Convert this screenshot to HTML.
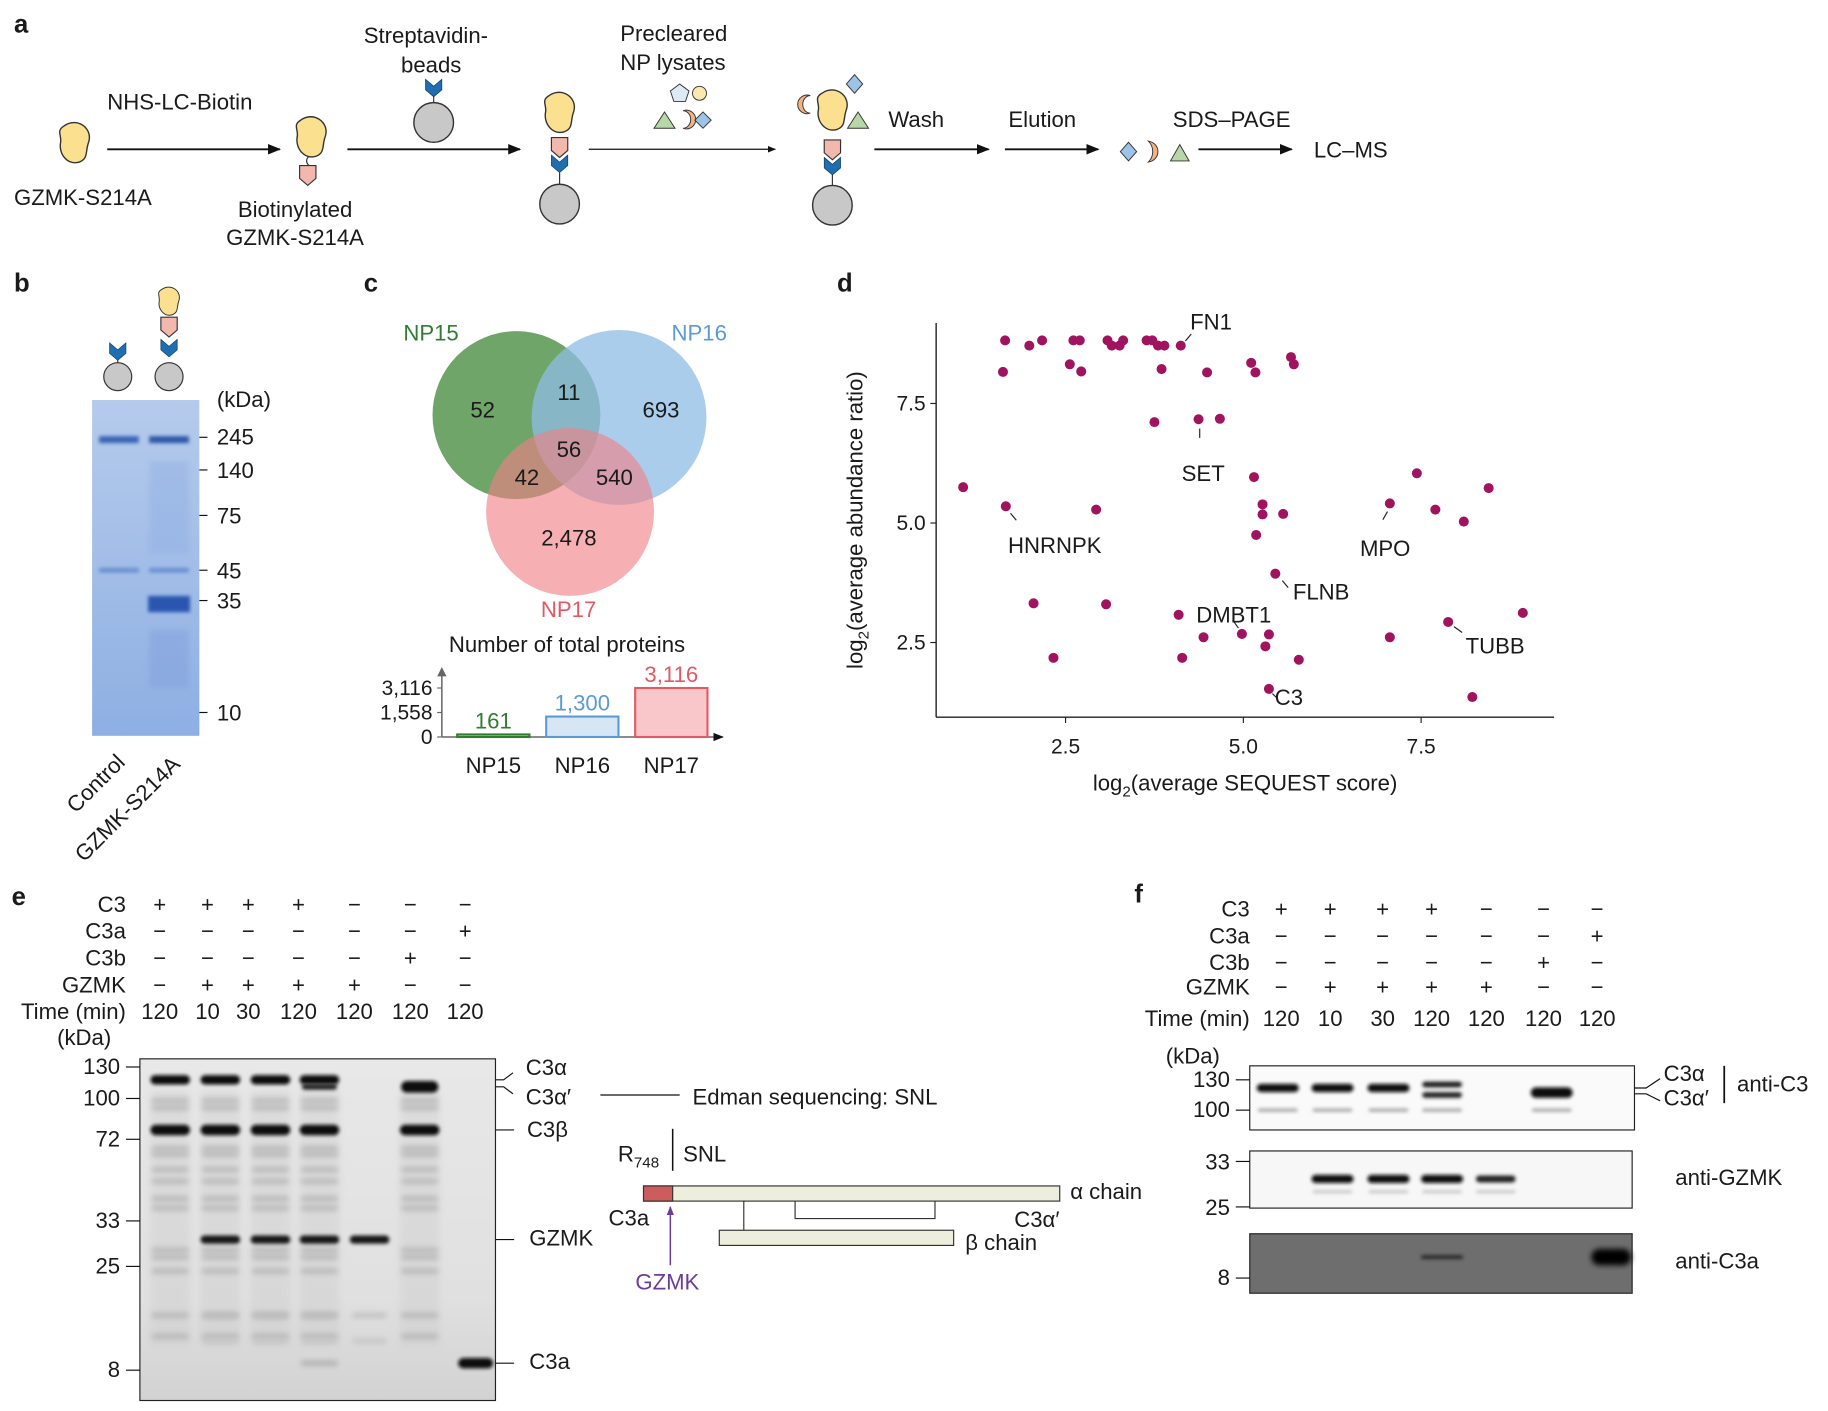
<!DOCTYPE html>
<html><head><meta charset="utf-8"><style>
html,body{margin:0;padding:0;background:#fff}
svg{display:block}
text{font-family:"Liberation Sans",Arial,sans-serif;fill:#1a1a1a}
</style></head><body>
<svg id="fig" width="1828" height="1411" viewBox="0 0 1568 1210" preserveAspectRatio="none" xmlns="http://www.w3.org/2000/svg">
<defs>
<filter id="bl" x="-20%" y="-200%" width="140%" height="500%"><feGaussianBlur stdDeviation="1.6"/></filter>
<filter id="bl2" x="-20%" y="-200%" width="140%" height="500%"><feGaussianBlur stdDeviation="2.5"/></filter>
<filter id="bl3" x="-20%" y="-300%" width="140%" height="700%"><feGaussianBlur stdDeviation="3"/></filter>
<marker id="ar" viewBox="0 0 10 10" refX="9" refY="5" markerWidth="7" markerHeight="7" orient="auto"><path d="M0,1 L10,5 L0,9 z" fill="#111"/></marker>
<marker id="arp" viewBox="0 0 10 10" refX="9" refY="5" markerWidth="6" markerHeight="6" orient="auto"><path d="M0,1 L10,5 L0,9 z" fill="#6a3d9a"/></marker>
<linearGradient id="gelb" x1="0" y1="0" x2="0" y2="1"><stop offset="0" stop-color="#b5cbec"/><stop offset="1" stop-color="#8eafe3"/></linearGradient>
<linearGradient id="gele" x1="0" y1="0" x2="0" y2="1"><stop offset="0" stop-color="#e8e8e8"/><stop offset="0.7" stop-color="#e0e0e0"/><stop offset="1" stop-color="#d2d2d2"/></linearGradient>
<g id="blob"><path d="M-9,-14 C2,-22 16,-12 12,0 C9,8 12,14 4,17 C-6,20 -14,10 -12,0 C-11,-6 -16,-10 -9,-14 z" fill="#fbe08f" stroke="#333" stroke-width="1.2"/></g>
<g id="tag"><path d="M-7,0 L7,0 L7,11 L0,17 L-7,11 z" fill="#f2b8ad" stroke="#333" stroke-width="1"/></g>
<g id="chev"><path d="M-7,0 L0,6 L7,0 L7,9 L0,15 L-7,9 z" fill="#1f6fb0" stroke="#0d3e66" stroke-width="0.6"/></g>
<g id="bead"><circle r="17" fill="#c8c8c8" stroke="#333" stroke-width="1.2"/></g>
</defs>

<g>
<text x="12" y="28" font-size="22" font-weight="bold">a</text>
<use href="#blob" x="64" y="122"/>
<text x="12" y="176" font-size="19">GZMK-S214A</text>
<line x1="92" y1="128" x2="240" y2="128" stroke="#111" stroke-width="1.6" marker-end="url(#ar)"/>
<text x="92" y="94" font-size="19">NHS-LC-Biotin</text>
<use href="#blob" x="267" y="117"/>
<path d="M265,134 q-4,4 0,8" fill="none" stroke="#333"/>
<use href="#tag" x="264" y="142"/>
<text x="204" y="186" font-size="19">Biotinylated</text>
<text x="194" y="210" font-size="19">GZMK-S214A</text>
<line x1="298" y1="128" x2="446" y2="128" stroke="#111" stroke-width="1.6" marker-end="url(#ar)"/>
<text x="312" y="37" font-size="19">Streptavidin-</text>
<text x="344" y="62" font-size="19">beads</text>
<use href="#chev" x="372" y="68"/>
<line x1="372" y1="82" x2="372" y2="88" stroke="#333"/>
<use href="#bead" x="372" y="105"/>
<use href="#blob" x="480" y="96"/>
<use href="#tag" x="480" y="118"/>
<use href="#chev" x="480" y="133"/>
<line x1="480" y1="148" x2="480" y2="158" stroke="#333"/>
<use href="#bead" x="480" y="175"/>
<line x1="505" y1="128" x2="665" y2="128" stroke="#111" stroke-width="1" marker-end="url(#ar)"/>
<text x="532" y="35" font-size="19">Precleared</text>
<text x="532" y="60" font-size="19">NP lysates</text>
<path d="M575,78 l8,-6 l8,6 l-3,9 l-10,0 z" fill="#dde9f5" stroke="#333" stroke-width="0.8"/>
<circle cx="600" cy="80" r="6" fill="#fbe8b0" stroke="#333" stroke-width="0.8"/>
<path d="M561,110 l9,-14 l9,14 z" fill="#b6d7a8" stroke="#333" stroke-width="0.8"/>
<path d="M586,95 a8,8 0 1 1 0,15 a6,7 0 1 0 0,-15 z" fill="#f4b183" stroke="#333" stroke-width="0.8"/>
<path d="M603,96 l7,7 l-7,7 l-7,-7 z" fill="#9dc3e6" stroke="#333" stroke-width="0.8"/>
<use href="#blob" x="714" y="94"/>
<path d="M695,82 a8,8 0 1 0 0,15 a6,7 0 1 1 0,-15 z" fill="#f4b183" stroke="#333" stroke-width="0.8"/>
<path d="M733,64 l7,8 l-7,8 l-7,-8 z" fill="#9dc3e6" stroke="#333" stroke-width="0.8"/>
<path d="M727,110 l9,-14 l9,14 z" fill="#b6d7a8" stroke="#333" stroke-width="0.8"/>
<use href="#tag" x="714" y="120"/>
<use href="#chev" x="714" y="135"/>
<line x1="714" y1="150" x2="714" y2="160" stroke="#333"/>
<use href="#bead" x="714" y="176"/>
<line x1="750" y1="128" x2="848" y2="128" stroke="#111" stroke-width="1.6" marker-end="url(#ar)"/>
<text x="762" y="109" font-size="19">Wash</text>
<line x1="862" y1="128" x2="942" y2="128" stroke="#111" stroke-width="1.6" marker-end="url(#ar)"/>
<text x="865" y="109" font-size="19">Elution</text>
<path d="M968,122 l7,8 l-7,8 l-7,-8 z" fill="#9dc3e6" stroke="#333" stroke-width="0.8"/>
<path d="M985,121 C996,123 996,137 985,139 C990,134 990,126 985,121 z" fill="#f4b183" stroke="#333" stroke-width="0.8"/>
<path d="M1004,138 l8,-14 l8,14 z" fill="#b6d7a8" stroke="#333" stroke-width="0.8"/>
<line x1="1028" y1="128" x2="1108" y2="128" stroke="#111" stroke-width="1.6" marker-end="url(#ar)"/>
<text x="1006" y="109" font-size="19">SDS–PAGE</text>
<text x="1127" y="135" font-size="19">LC–MS</text>
</g>

<g>
<text x="12" y="250" font-size="22" font-weight="bold">b</text>
<use href="#chev" x="101" y="294"/>
<line x1="101" y1="309" x2="101" y2="312" stroke="#333"/>
<circle cx="101" cy="323" r="12" fill="#c8c8c8" stroke="#333"/>
<g transform="translate(145,258) scale(0.7)"><use href="#blob"/></g>
<use href="#tag" x="145" y="272"/>
<use href="#chev" x="145" y="291"/>
<circle cx="145" cy="323" r="12" fill="#c8c8c8" stroke="#333"/>
<rect x="79" y="343" width="92" height="288" fill="url(#gelb)"/>
<g filter="url(#bl2)">
<rect x="128" y="395" width="34" height="80" fill="#8aa8e0" opacity="0.35"/>
<rect x="128" y="540" width="34" height="50" fill="#7b9cda" opacity="0.4"/>
</g>
<g filter="url(#bl)">
<rect x="85" y="374" width="34" height="6" fill="#3a65b5"/>
<rect x="128" y="374" width="34" height="6" fill="#2f58a8"/>
<rect x="85" y="487" width="34" height="4" fill="#6a8fd0"/>
<rect x="128" y="487" width="34" height="4" fill="#6a8fd0"/>
<rect x="127" y="511" width="36" height="14" fill="#2a56b0"/>
</g>
<g font-size="19">
<text x="186" y="349">(kDa)</text>
<text x="186" y="381">245</text><text x="186" y="410">140</text><text x="186" y="449">75</text>
<text x="186" y="496">45</text><text x="186" y="522">35</text><text x="186" y="618">10</text>
</g>
<g stroke="#111"><line x1="171" y1="375" x2="178" y2="375"/><line x1="171" y1="403" x2="178" y2="403"/><line x1="171" y1="442" x2="178" y2="442"/><line x1="171" y1="489" x2="178" y2="489"/><line x1="171" y1="515" x2="178" y2="515"/><line x1="171" y1="611" x2="178" y2="611"/></g>
<text transform="translate(65,698) rotate(-45)" font-size="19">Control</text>
<text transform="translate(72,740) rotate(-45)" font-size="19">GZMK-S214A</text>
</g>

<g>
<text x="312" y="250" font-size="22" font-weight="bold">c</text>
<circle cx="443" cy="356" r="72" fill="#4c8f45" opacity="0.8"/>
<circle cx="531" cy="358" r="75" fill="#8fbce6" opacity="0.75"/>
<circle cx="489" cy="439" r="72" fill="#f07f85" opacity="0.62"/>
<text x="346" y="292" font-size="19" style="fill:#2e7d32">NP15</text>
<text x="576" y="292" font-size="19" style="fill:#5b9bd5">NP16</text>
<text x="464" y="529" font-size="19" style="fill:#e05a63">NP17</text>
<g font-size="19" text-anchor="middle">
<text x="414" y="358">52</text><text x="488" y="343">11</text><text x="567" y="358">693</text>
<text x="488" y="392">56</text><text x="452" y="416">42</text><text x="527" y="416">540</text><text x="488" y="468">2,478</text>
</g>
<text x="385" y="559" font-size="19">Number of total proteins</text>
<g id="barchart"></g>
</g>

<g>
<text x="718" y="250" font-size="22" font-weight="bold">d</text>
<g id="scatter"></g>
</g>

<g>
<text x="10" y="776" font-size="22" font-weight="bold">e</text>
<g font-size="19" text-anchor="end">
<text x="108" y="782">C3</text><text x="108" y="805">C3a</text><text x="108" y="828">C3b</text><text x="108" y="851">GZMK</text><text x="108" y="874">Time (min)</text>
</g>
<g id="ehead" font-size="19" text-anchor="middle"></g>
<text x="49" y="896" font-size="19">(kDa)</text>
<rect x="120" y="908" width="305" height="293" fill="url(#gele)" stroke="#222"/>
<g id="egel"></g>
<g font-size="19" text-anchor="end">
<text x="103" y="921">130</text><text x="103" y="948">100</text><text x="103" y="983">72</text><text x="103" y="1053">33</text><text x="103" y="1092">25</text><text x="103" y="1181">8</text>
</g>
<g stroke="#111"><line x1="108" y1="915" x2="120" y2="915"/><line x1="108" y1="942" x2="120" y2="942"/><line x1="108" y1="977" x2="120" y2="977"/><line x1="108" y1="1047" x2="120" y2="1047"/><line x1="108" y1="1086" x2="120" y2="1086"/><line x1="108" y1="1175" x2="120" y2="1175"/></g>
<g stroke="#111" fill="none"><path d="M425,926 L432,926 L440,920"/><path d="M425,932 L432,932 L440,938"/><line x1="425" y1="969" x2="441" y2="969"/><line x1="425" y1="1063" x2="441" y2="1063"/><line x1="425" y1="1169" x2="441" y2="1169"/><line x1="515" y1="939" x2="583" y2="939"/></g>
<g font-size="19">
<text x="451" y="922">C3α</text><text x="451" y="947">C3α′</text><text x="452" y="975">C3β</text><text x="454" y="1068">GZMK</text><text x="454" y="1174">C3a</text>
<text x="594" y="947">Edman sequencing: SNL</text>
<text x="530" y="996">R<tspan font-size="13" dy="5">748</tspan></text><text x="586" y="996">SNL</text>
<text x="918" y="1028">α chain</text><text x="870" y="1052">C3α′</text><text x="828" y="1072">β chain</text><text x="522" y="1051">C3a</text>
<text x="545" y="1106" style="fill:#6a3d9a">GZMK</text>
</g>
<line x1="577" y1="968" x2="577" y2="1004" stroke="#111" stroke-width="1.3"/>
<rect x="552" y="1017" width="357" height="13" fill="#eeeedd" stroke="#333"/>
<rect x="552" y="1017" width="25" height="13" fill="#cd5c5c" stroke="#333"/>
<rect x="617" y="1055" width="201" height="13" fill="#eeeedd" stroke="#333"/>
<g stroke="#333" fill="none"><line x1="638" y1="1030" x2="638" y2="1055"/><path d="M682,1030 L682,1045 L802,1045 L802,1030"/></g>
<line x1="575" y1="1085" x2="575" y2="1035" stroke="#6a3d9a" stroke-width="1.3" marker-end="url(#arp)"/>
</g>

<g>
<text x="973" y="774" font-size="22" font-weight="bold">f</text>
<g font-size="19" text-anchor="end">
<text x="1072" y="786">C3</text><text x="1072" y="809">C3a</text><text x="1072" y="832">C3b</text><text x="1072" y="853">GZMK</text><text x="1072" y="880">Time (min)</text>
</g>
<g id="fhead" font-size="19" text-anchor="middle"></g>
<text x="1000" y="912" font-size="19">(kDa)</text>
<rect x="1072" y="914" width="330" height="55" fill="#fafafa" stroke="#222"/>
<rect x="1072" y="987" width="328" height="49" fill="#f7f7f7" stroke="#222"/>
<rect x="1072" y="1058" width="328" height="51" fill="#6e6e6e" stroke="#222"/>
<g id="fblot"></g>
<g font-size="19" text-anchor="end">
<text x="1055" y="932">130</text><text x="1055" y="958">100</text><text x="1055" y="1003">33</text><text x="1055" y="1042">25</text><text x="1055" y="1102">8</text>
</g>
<g stroke="#111"><line x1="1060" y1="926" x2="1072" y2="926"/><line x1="1060" y1="952" x2="1072" y2="952"/><line x1="1060" y1="996" x2="1072" y2="996"/><line x1="1060" y1="1035" x2="1072" y2="1035"/><line x1="1060" y1="1096" x2="1072" y2="1096"/></g>
<g stroke="#111" fill="none"><path d="M1402,933 L1412,933 L1424,925"/><path d="M1402,938 L1412,938 L1424,944"/><line x1="1479" y1="914" x2="1479" y2="946" stroke-width="1.5"/></g>
<g font-size="19">
<text x="1427" y="927">C3α</text><text x="1427" y="948">C3α′</text><text x="1490" y="936">anti-C3</text>
<text x="1437" y="1016">anti-GZMK</text><text x="1437" y="1088">anti-C3a</text>
</g>
</g>
</svg>
<script>
const NS="http://www.w3.org/2000/svg";
function mk(tag,attrs,parent){const e=document.createElementNS(NS,tag);for(const k in attrs)e.setAttribute(k,attrs[k]);parent.appendChild(e);return e;}

const barCategories=["NP15","NP16","NP17"];
const barValues=[161,1300,3116];
const barTicks=[0,1558,3116];
const barTickLabels=["0","1,558","3,116"];
const barFill=["#d7ead3","#d6e6f5","#f9c7c9"];
const barStroke=["#2e7d32","#5b9bd5","#e05a63"];
(function(){
  const g=document.getElementById('barchart');
  const x0=379,x1=620,y0=632,yMaxPx=590,vmax=3116;
  const ys=v=>y0-(v/vmax)*(y0-yMaxPx);
  const bw=62, step=(x1-x0-12)/barCategories.length;
  let ax=mk('line',{x1:x0,y1:577,x2:x0,y2:y0,stroke:'#666','stroke-width':1.3},g);
  
  
  let bx=mk('line',{x1:x0,y1:y0,x2:x1,y2:y0,stroke:'#666','stroke-width':1.3,'marker-end':'url(#ar)'},g);
  
  
  mk('path',{d:`M${x0-4},${580} L${x0},${572} L${x0+4},${580}`,fill:'#666'},g);
  barTicks.forEach((t,i)=>{
    mk('line',{x1:x0-4,y1:ys(t),x2:x0,y2:ys(t),stroke:'#666'},g);
    const tx=mk('text',{x:x0-8,y:ys(t)+6,'font-size':18,'text-anchor':'end'},g);
    tx.textContent=barTickLabels[i];
    
    
  });
  barCategories.forEach((c,i)=>{
    const cx=x0+12+step*i+step/2-6;
    const r=mk('rect',{x:cx-bw/2,y:ys(barValues[i]),width:bw,height:y0-ys(barValues[i]),fill:barFill[i],stroke:barStroke[i],'stroke-width':1.8},g);
    
    
    const vl=mk('text',{x:cx,y:ys(barValues[i])-5,'font-size':19,'text-anchor':'middle',style:'fill:'+barStroke[i]},g);
    vl.textContent=barValues[i].toLocaleString('en-US');
    
    
    const cl=mk('text',{x:cx,y:663,'font-size':19,'text-anchor':'middle'},g);
    cl.textContent=c;
    
    
  });
})();

const scoreX=[1.65,1.99,2.17,2.61,2.70,3.09,3.15,3.26,3.31,3.64,3.72,3.80,3.89,4.12,
1.62,2.56,2.72,3.85,4.49,5.11,5.17,5.67,5.71,3.75,4.37,4.67,
1.06,1.66,2.93,5.15,5.27,5.27,5.56,5.18,7.06,7.44,7.70,8.10,8.45,
5.45,2.05,3.07,4.09,4.44,4.98,5.36,5.31,2.33,4.14,5.78,7.06,7.88,8.93,5.36,8.22];
const ratioY=[8.82,8.71,8.82,8.82,8.82,8.82,8.71,8.71,8.82,8.82,8.82,8.71,8.71,8.71,
8.16,8.32,8.17,8.22,8.15,8.35,8.15,8.47,8.32,7.11,7.17,7.18,
5.75,5.35,5.28,5.96,5.39,5.18,5.19,4.75,5.41,6.04,5.28,5.03,5.73,
3.94,3.32,3.30,3.08,2.61,2.68,2.67,2.42,2.18,2.18,2.14,2.61,2.93,3.12,1.53,1.36];
const xTicks=[2.5,5.0,7.5];
const yTicks=[2.5,5.0,7.5];
const labelNames=["FN1","SET","HNRNPK","MPO","FLNB","DMBT1","TUBB","C3"];
const labelIdx=[13,24,27,34,39,44,51,53];
(function(){
  const g=document.getElementById('scatter');
  const sx=v=>761.5+61*v, sy=v=>653.5-41*v;
  const L=803,R=1333,T=277,B=615;
  let a=mk('line',{x1:L,y1:T,x2:L,y2:B,stroke:'#222','stroke-width':1.2},g);
  
  
  a=mk('line',{x1:L,y1:B,x2:R,y2:B,stroke:'#222','stroke-width':1.2},g);
  
  
  xTicks.forEach(t=>{
    mk('line',{x1:sx(t),y1:B,x2:sx(t),y2:B+5,stroke:'#222'},g);
    const tx=mk('text',{x:sx(t),y:B+31,'font-size':18,'text-anchor':'middle'},g);
    tx.textContent=t.toFixed(1);
    
    
  });
  yTicks.forEach(t=>{
    mk('line',{x1:L-5,y1:sy(t),x2:L,y2:sy(t),stroke:'#222'},g);
    const tx=mk('text',{x:L-9,y:sy(t)+6,'font-size':18,'text-anchor':'end'},g);
    tx.textContent=t.toFixed(1);
    
    
  });
  const xt=mk('text',{x:1068,y:678,'font-size':19,'text-anchor':'middle'},g);
  xt.innerHTML='log<tspan font-size="13" dy="5">2</tspan><tspan dy="-5">(average SEQUEST score)</tspan>';
  
  
  const yt=mk('text',{transform:'translate(740,446) rotate(-90)','font-size':19,'text-anchor':'middle'},g);
  yt.innerHTML='log<tspan font-size="13" dy="5">2</tspan><tspan dy="-5">(average abundance ratio)</tspan>';
  
  
  scoreX.forEach((v,i)=>{
    const c=mk('circle',{cx:sx(v),cy:sy(ratioY[i]),r:4.3,fill:'#a0135f'},g);
    
    
  });
  const offs={FN1:[8,-14,'start'],SET:[4,53,'middle'],HNRNPK:[42,40,'middle'],MPO:[-4,45,'middle'],FLNB:[15,22,'start'],DMBT1:[-7,-10,'middle'],TUBB:[15,27,'start'],C3:[5,14,'start']};
  labelIdx.forEach((idx,k)=>{
    const nm=labelNames[k], px=sx(scoreX[idx]), py=sy(ratioY[idx]), o=offs[nm];
    const t=mk('text',{x:px+o[0],y:py+o[1],'font-size':19,'text-anchor':o[2]},g);
    t.textContent=nm;
    
    
    let l;
    if(nm==='FN1') l=[px+4,py-4,px+9,py-10];
    else if(nm==='SET') l=[px+1,py+8,px+1,py+16];
    else if(nm==='HNRNPK') l=[px+4,py+6,px+9,py+12];
    else if(nm==='MPO') l=[px-2,py+7,px-6,py+14];
    else if(nm==='FLNB') l=[px+6,py+6,px+11,py+12];
    else if(nm==='DMBT1') l=[px-3,py-5,px-8,py-12];
    else if(nm==='TUBB') l=[px+5,py+4,px+12,py+9];
    else l=[px+3,py+4,px+7,py+8];
    mk('line',{x1:l[0],y1:l[1],x2:l[2],y2:l[3],stroke:'#222','stroke-width':1},g);
  });
})();

const rowC3=["+","+","+","+","−","−","−"];
const rowC3a=["−","−","−","−","−","−","+"];
const rowC3b=["−","−","−","−","−","+","−"];
const rowGZMK=["−","+","+","+","+","−","−"];
const rowTime=["120","10","30","120","120","120","120"];
function heads(id,xs,ys){
  const g=document.getElementById(id);
  [rowC3,rowC3a,rowC3b,rowGZMK,rowTime].forEach((row,r)=>{
    row.forEach((s,i)=>{const t=mk('text',{x:xs[i],y:ys[r]},g);t.textContent=s;});
  });
}
heads('ehead',[137,178,213,256,304,352,399],[782,805,828,851,874]);
heads('fhead',[1099,1141,1186,1228,1275,1324,1370],[786,809,832,853,880]);

const eLaneX=[146,189,232,274,317,360,403];
(function(){
  const g=document.getElementById('egel');
  function band(x,y,w,h,c,f){mk('rect',{x:x-w/2,y:y-h/2,width:w,height:h,rx:h/2,fill:c,filter:'url(#'+(f||'bl')+')'},g);}
  [0,1,2,3,5].forEach(i=>{
    mk('rect',{x:eLaneX[i]-17,y:935,width:34,height:220,fill:'#c9c9c9',opacity:0.35,filter:'url(#bl3)'},g);
    for(const y of [944,950,985,990,1003,1013,1028,1036,1072,1078,1090,1128,1146]) band(eLaneX[i],y,32,4,'#b4b4b4','bl2');
  });
  [1,2,3,4].forEach(i=>{band(eLaneX[i],1128,30,4,'#bdbdbd','bl2');band(eLaneX[i],1150,30,4,'#c4c4c4','bl2');});
  [0,1,2,3].forEach(i=>band(eLaneX[i],926,34,8,'#111'));
  band(eLaneX[3],932,30,5,'#222');
  band(eLaneX[5],932,32,10,'#111');
  [0,1,2,3,5].forEach(i=>band(eLaneX[i],969,34,9,'#111'));
  [1,2,3,4].forEach(i=>band(eLaneX[i],1063,34,7,'#151515'));
  band(eLaneX[3],1169,32,4,'#aaa','bl2');
  band(eLaneX[6]+5,1169,30,9,'#0a0a0a');
})();

(function(){
  const g=document.getElementById('fblot');
  function band(x,y,w,h,c,f){mk('rect',{x:x-w/2,y:y-h/2,width:w,height:h,rx:h/2,fill:c,filter:'url(#'+(f||'bl')+')'},g);}
  const fx=[1096,1143,1191,1237,1283,1331,1378];
  [0,1,2].forEach(i=>band(fx[i],933,36,7,'#111'));
  band(fx[3],930,34,5,'#1a1a1a');band(fx[3],939,34,5,'#222');
  band(fx[5],937,36,9,'#0a0a0a');
  [0,1,2,3,5].forEach(i=>band(fx[i],952,34,3,'#aaa'));
  [1,2,3].forEach(i=>band(fx[i],1011,36,7,'#111'));
  band(fx[4],1011,34,6,'#222');
  [1,2,3,4].forEach(i=>band(fx[i],1022,34,3,'#ccc'));
  band(fx[3],1078,36,3,'#222');
  band(fx[6]+4,1078,34,14,'#050505','bl2');
})();
</script>
</body></html>
